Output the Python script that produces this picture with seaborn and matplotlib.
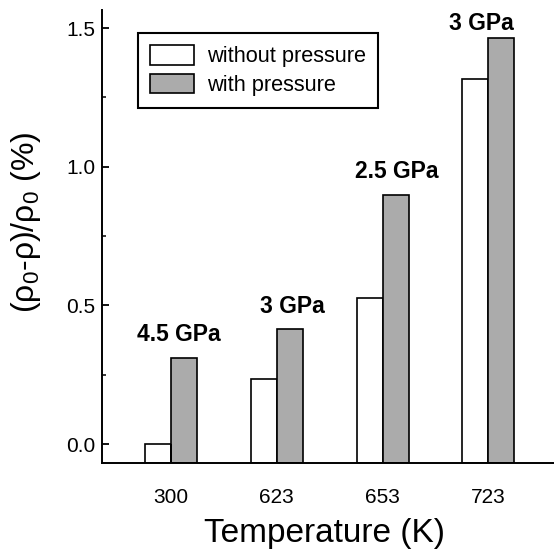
import pandas as pd
import numpy as np
import matplotlib
matplotlib.use("Agg")
import matplotlib.pyplot as plt
import seaborn as sns
from matplotlib.ticker import MultipleLocator

# data
temperatures = ["300", "623", "653", "723"]
without_pressure = [0.0, 0.234, 0.526, 1.315]
with_pressure = [0.31, 0.414, 0.899, 1.464]
pressure_labels = ["4.5 GPa", "3 GPa", "2.5 GPa", "3 GPa"]
series_names = ["without pressure", "with pressure"]

df = pd.DataFrame({
    "temperature": temperatures * 2,
    "value": without_pressure + with_pressure,
    "series": [series_names[0]] * 4 + [series_names[1]] * 4,
})

sns.set_theme(style="ticks")
plt.rcParams['font.family'] = ['Liberation Sans', 'DejaVu Sans']
plt.rcParams['mathtext.fontset'] = 'custom'
plt.rcParams['mathtext.rm'] = 'Liberation Sans'
plt.rcParams['mathtext.it'] = 'Liberation Sans:italic'
plt.rcParams['text.color'] = 'black'
plt.rcParams['axes.labelcolor'] = 'black'
plt.rcParams['xtick.color'] = 'black'
plt.rcParams['ytick.color'] = 'black'

fig = plt.figure(figsize=(5.54, 5.58), dpi=100)
ax = fig.add_axes([102 / 554, 1 - 463 / 558, 452 / 554, 453 / 558])

sns.barplot(data=df, x="temperature", y="value", hue="series", ax=ax,
            palette={series_names[0]: "white", series_names[1]: "#ababab"},
            edgecolor="black", linewidth=1.2, width=0.49, gap=0, saturation=1)

ymin, ymax = -0.0685, 1.565
# bars start from the bottom of the axes like in the original
for p in ax.patches:
    h = p.get_height()
    p.set_y(ymin)
    p.set_height(h - ymin)

ax.set_ylim(ymin, ymax)
ax.set_xlim(-0.653, 3.62)

# pressure annotations above the grey bars
offsets = [0.07, 0.15, 0.13, -0.07]
for i, (lab, v) in enumerate(zip(pressure_labels, with_pressure)):
    ax.text(i + offsets[i], v + 0.042 if i < 3 else v + 0.012, lab,
            ha="center", va="bottom", fontsize=16.5, fontweight="bold")

sns.despine(ax=ax)
for s in ["left", "bottom"]:
    ax.spines[s].set_linewidth(1.4)
    ax.spines[s].set_color("black")

ax.yaxis.set_major_locator(MultipleLocator(0.5))
ax.yaxis.set_minor_locator(MultipleLocator(0.25))
ax.yaxis.set_major_formatter(matplotlib.ticker.FormatStrFormatter('%.1f'))
ax.tick_params(axis="y", which="major", direction="in", length=5, width=1.3,
               labelsize=15, pad=5)
ax.tick_params(axis="y", which="minor", direction="in", length=3, width=1.1)
ax.tick_params(axis="x", length=0, labelsize=15, pad=18)

ax.set_xlabel("Temperature (K)", fontsize=24)
ax.set_ylabel("(ρ$_0$-ρ)/ρ$_0$ (%)", fontsize=23)
ax.xaxis.set_label_coords(0.493, -0.121)
ax.yaxis.set_label_coords(-0.13, 0.532)

leg = ax.legend(loc="upper left", bbox_to_anchor=(0.08, 0.949), borderaxespad=0,
                fontsize=15.7, frameon=True, fancybox=False, edgecolor="black",
                handlelength=2.0, handleheight=1.0, labelspacing=0.3,
                borderpad=0.55, handletextpad=0.6, title=None)
leg.get_frame().set_linewidth(1.5)
leg.get_frame().set_alpha(1)

fig.savefig("out.png", dpi=100)
